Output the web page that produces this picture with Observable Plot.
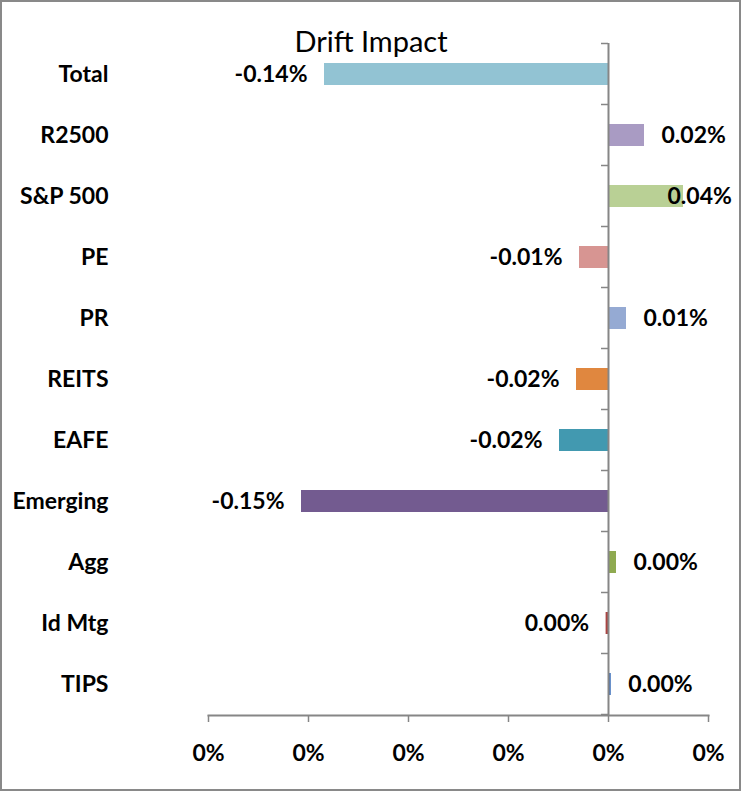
<!DOCTYPE html>
<html>
<head>
<meta charset="utf-8">
<script src="https://cdn.jsdelivr.net/npm/d3@7"></script>
<script src="https://cdn.jsdelivr.net/npm/@observablehq/plot@0.6"></script>
<style>
  html, body { margin: 0; padding: 0; background: #fff; }
  #chart { position: relative; width: 742px; height: 792px; }
  svg { font-family: Lato, "Open Sans", sans-serif; }
</style>
</head>
<body>
<div id="chart"></div>
<script>
const title = "Drift Impact";
const categories = ["Total", "R2500", "S&P 500", "PE", "PR", "REITS", "EAFE", "Emerging", "Agg", "Id Mtg", "TIPS"];
const values = [-0.00142, 0.00018, 0.000375, -0.000145, 0.00009, -0.00016, -0.000245, -0.001535, 0.00004, -0.000012, 0.000014];
const colors = ["#92C3D3", "#A99BC3", "#B9D095", "#D79592", "#95AAD3", "#E0873F", "#4299B0", "#735B90", "#8FAA50", "#A94442", "#4677BE"];
const xTicks = [-0.002, -0.0015, -0.001, -0.0005, 0, 0.0005];

const loc = d3.formatLocale({decimal: ".", thousands: ",", grouping: [3], currency: ["$", ""], minus: "-"});
const fmtVal = loc.format(".2%");
const fmtTick = loc.format(".0%");

const data = categories.map((c, i) => ({cat: c, value: values[i], color: colors[i]}));
const axisGray = "#868686";

const chart = Plot.plot({
  width: 742,
  height: 792,
  marginLeft: 208,
  marginRight: 34,
  marginTop: 43,
  marginBottom: 77,
  style: {fontFamily: "Lato, 'Open Sans', sans-serif", background: "#fff"},
  x: {domain: [xTicks[0], xTicks[xTicks.length - 1]]},
  y: {domain: categories, paddingInner: 0.64, paddingOuter: 0.32},
  marks: [
    Plot.barX(data, {y: "cat", x: "value", fill: "color"}),
    Plot.ruleX([0], {stroke: axisGray, strokeWidth: 2}),
    Plot.frame({anchor: "bottom", stroke: axisGray, strokeWidth: 2}),
    Plot.axisX({ticks: xTicks, tickFormat: fmtTick, tickSize: 7, tickPadding: 22, stroke: axisGray, strokeWidth: 1.5,
      fontSize: 23, fontWeight: "bold", fill: "#000", label: null}),
    Plot.axisY({tickSize: 0, tickPadding: 100, fontSize: 23, fontWeight: "bold", fill: "#000", label: null, textAnchor: "end"}),
    Plot.text(data.filter(d => d.value < 0), {y: "cat", x: "value", text: d => fmtVal(d.value), textAnchor: "end", dx: -17,
      fontSize: 23, fontWeight: "bold", fill: "#000"}),
    Plot.text(data.filter(d => d.value >= 0 && d.cat !== "S&P 500"), {y: "cat", x: "value", text: d => fmtVal(d.value), textAnchor: "start", dx: 17,
      fontSize: 23, fontWeight: "bold", fill: "#000"}),
    Plot.text(data.filter(d => d.cat === "S&P 500"), {y: "cat", x: "value", text: d => fmtVal(d.value), textAnchor: "start", dx: -16,
      fontSize: 23, fontWeight: "bold", fill: "#000"})
  ]
});

// boundary tick marks on the category axis (Excel style), from the library's scales
const svg = d3.select(chart);
const ys = chart.scale("y");
const xs = chart.scale("x");
const x0 = xs.apply(0);
const step = ys.step;
const bounds = categories.map(c => ys.apply(c) - (step - ys.bandwidth) / 2);
bounds.push(bounds[bounds.length - 1] + step);
svg.append("g").selectAll("line").data(bounds).join("line")
  .attr("x1", x0 - 7).attr("x2", x0).attr("y1", d => d).attr("y2", d => d)
  .attr("stroke", axisGray).attr("stroke-width", 1.5);

// title
svg.append("text").attr("x", 371).attr("y", 52).attr("text-anchor", "middle")
  .attr("font-size", 29).attr("fill", "#000").style("font-family", "Lato, 'Open Sans', sans-serif").text(title);

// outer border
svg.append("rect").attr("x", 1).attr("y", 1).attr("width", 739).attr("height", 789)
  .attr("fill", "none").attr("stroke", "#898989").attr("stroke-width", 2);

document.getElementById("chart").appendChild(chart);
</script>
</body>
</html>
